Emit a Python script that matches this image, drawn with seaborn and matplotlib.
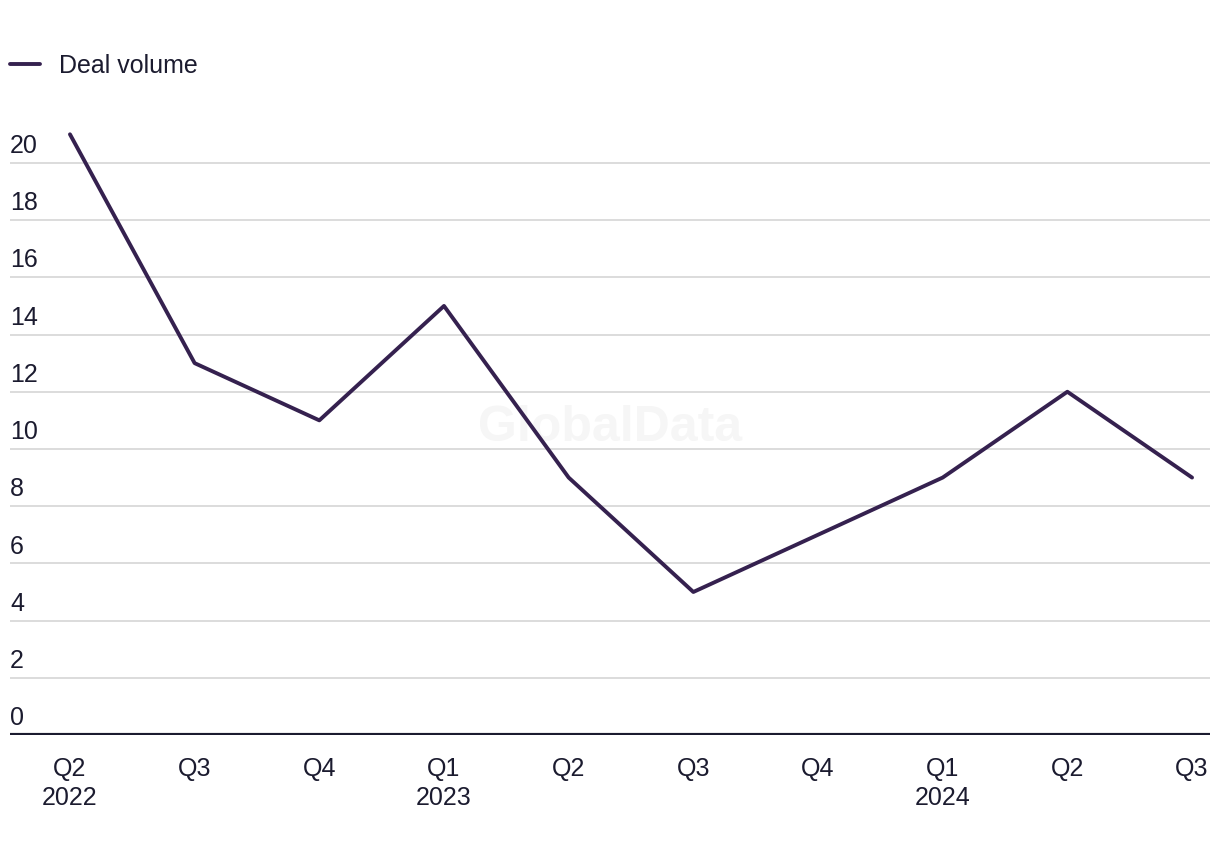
import pandas as pd
import numpy as np
import matplotlib
matplotlib.use("Agg")
import matplotlib.pyplot as plt
import matplotlib.transforms as mtransforms
import seaborn as sns

quarters = ["Q2\n2022", "Q3", "Q4", "Q1\n2023", "Q2", "Q3", "Q4", "Q1\n2024", "Q2", "Q3"]
deal_volume = [21, 13, 11, 15, 9, 5, 7, 9, 12, 9]
y_ticks = [0, 2, 4, 6, 8, 10, 12, 14, 16, 18, 20]

sns.set_theme(style="white")
plt.rcParams["font.family"] = ["Liberation Sans", "DejaVu Sans"]

text_col = "#1b1b2f"
line_col = "#35214f"

df = pd.DataFrame({"x": np.arange(len(deal_volume)), "Deal volume": deal_volume})

fig = plt.figure(figsize=(12.2, 8.56), dpi=100)
ax = fig.add_axes([10 / 1220, 1 - 735 / 856, 1200 / 1220, 615 / 856])

sns.lineplot(data=df, x="x", y="Deal volume", ax=ax, color=line_col,
             linewidth=2.8, label="Deal volume", zorder=3)

ax.set_xlim(-0.481, 9.144)
ax.set_ylim(0, 21.5)

# gridlines + labels sitting above them
for t in y_ticks:
    if t > 0:
        ax.axhline(t, color="#d9d9d9", linewidth=1.3, zorder=1)
trans = mtransforms.blended_transform_factory(ax.transAxes, ax.transData)
for t in y_ticks:
    ax.text(0, t + 0.17, str(t), transform=trans, ha="left", va="bottom",
            fontsize=18, color=text_col)
ax.axhline(0, color=text_col, linewidth=3, zorder=2)

ax.set_yticks([])
ax.set_xticks(df["x"])
ax.set_xticklabels(quarters, fontsize=18, color=text_col, linespacing=1.25)
ax.tick_params(axis="x", length=0, pad=16)
ax.set_xlabel("")
ax.set_ylabel("")
for s in ax.spines.values():
    s.set_visible(False)

# watermark
ax.text(0.5, 0.5, "GlobalData", transform=fig.transFigure, ha="center", va="center",
        fontsize=36, fontweight="bold", color="#f6f6f6", zorder=0)

leg = ax.legend(loc="upper left", bbox_to_anchor=(-0.008, 1 + 76 / 615), frameon=False,
                fontsize=18, handlelength=1.2, handletextpad=0.75, borderaxespad=0)
for txt in leg.get_texts():
    txt.set_color(text_col)

fig.savefig("out.png", dpi=100)
